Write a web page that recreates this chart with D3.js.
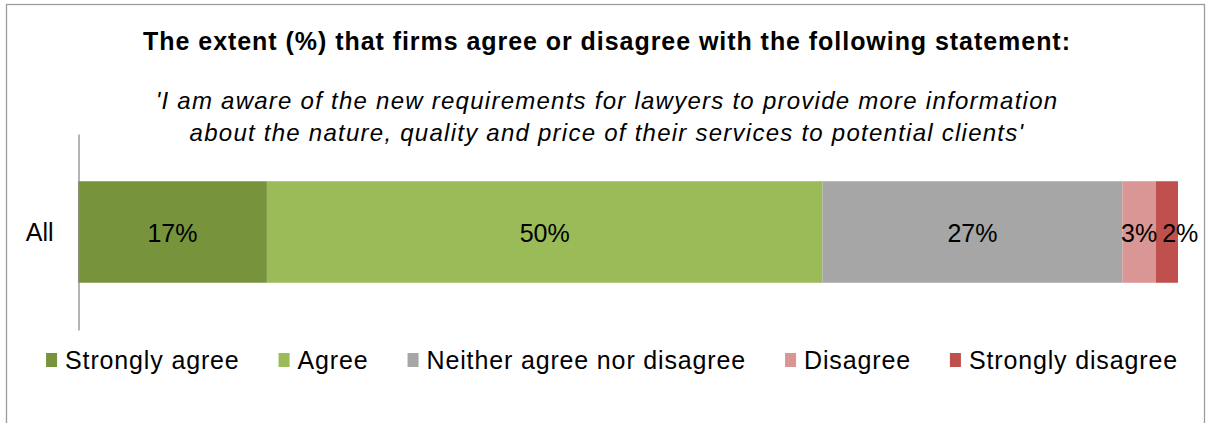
<!DOCTYPE html>
<html>
<head>
<meta charset="utf-8">
<script src="https://cdn.jsdelivr.net/npm/d3@7/dist/d3.min.js"></script>
<style>
  html, body { margin: 0; padding: 0; background: #fff; }
  svg { display: block; }
  text { font-family: "Liberation Sans", Arial, sans-serif; fill: #000; }
</style>
</head>
<body>
<svg id="chart" width="1207" height="423"></svg>
<script>
// Survey response shares (%), one stacked bar
const categories = ["All"];
const responses = ["Strongly agree", "Agree", "Neither agree nor disagree", "Disagree", "Strongly disagree"];
const shares = [17, 50, 27, 3, 2];
const colors = ["#77933C", "#9BBB59", "#A6A6A6", "#D99694", "#C0504D"];

const titleText = "The extent (%) that firms agree or disagree with the following statement:";
const subtitleLines = [
  "'I am aware of the new requirements for lawyers to provide more information",
  "about the nature, quality and price of their services to potential clients'"
];

const W = 1207, H = 423;
const svg = d3.select("#chart");

// outer frame
svg.append("rect")
  .attr("x", 6.5).attr("y", 4.5)
  .attr("width", 1198).attr("height", H + 10)
  .attr("fill", "none").attr("stroke", "#9d9d9d").attr("stroke-width", 1.3);

// heading
svg.append("text")
  .attr("x", 607).attr("y", 50)
  .attr("text-anchor", "middle")
  .style("font-size", "25px").style("font-weight", "bold")
  .style("letter-spacing", "0.95px")
  .text(titleText);

svg.selectAll("text.sub")
  .data(subtitleLines)
  .join("text")
  .attr("class", "sub")
  .attr("x", 607).attr("y", (d, i) => 109 + i * 32)
  .attr("text-anchor", "middle")
  .style("font-size", "24px").style("font-style", "italic")
  .style("letter-spacing", "1.25px")
  .text(d => d);

// stacked segments
const total = d3.sum(shares);
const x = d3.scaleLinear().domain([0, total]).range([78, 1178]);
const y = d3.scaleBand().domain(categories).range([134, 330]).paddingInner(0.3176).paddingOuter(0.3176);

const starts = d3.cumsum([0, ...shares.slice(0, -1)]);
const segs = shares.map((v, i) => ({ key: responses[i], v, x0: starts[i], x1: starts[i] + v, color: colors[i] }));

const bar = svg.append("g");
bar.selectAll("rect")
  .data(segs)
  .join("rect")
  .attr("x", d => x(d.x0))
  .attr("y", y("All"))
  .attr("width", d => x(d.x1) - x(d.x0))
  .attr("height", y.bandwidth())
  .attr("fill", d => d.color);

// value labels, nudged right where they would collide
const labels = bar.selectAll("text")
  .data(segs)
  .join("text")
  .attr("x", d => x((d.x0 + d.x1) / 2))
  .attr("y", y("All") + y.bandwidth() / 2 + 10)
  .attr("text-anchor", "middle")
  .style("font-size", "25px")
  .text(d => d.v + "%");

let prevRight = -Infinity;
labels.each(function() {
  const t = d3.select(this);
  const w = this.getComputedTextLength();
  let cx = +t.attr("x");
  if (cx - w / 2 < prevRight + 5) cx = prevRight + 5 + w / 2;
  t.attr("x", cx);
  prevRight = cx + w / 2;
});

// category axis
const yAxis = d3.axisLeft(y).tickSize(0).tickSizeOuter(0).tickPadding(25);
const ag = svg.append("g").attr("transform", "translate(78.5,0)").call(yAxis);
ag.select(".domain").attr("stroke", "#8c8c8c").attr("stroke-width", 1.3);
ag.selectAll(".tick text")
  .attr("dy", null).attr("y", 9)
  .style("font-size", "25px")
  .style("font-family", "'Liberation Sans', Arial, sans-serif")
  .attr("fill", "#000");

// legend
const legend = svg.append("g");
const items = legend.selectAll("g")
  .data(segs)
  .join("g");
items.append("rect")
  .attr("x", 0).attr("y", 353)
  .attr("width", 11).attr("height", 14)
  .attr("fill", d => d.color);
items.append("text")
  .attr("x", 19).attr("y", 369)
  .style("font-size", "25px")
  .style("letter-spacing", "0.85px")
  .text(d => d.key);

let lx = 0;
const offsets = [];
items.each(function() {
  const w = d3.select(this).select("text").node().getComputedTextLength();
  offsets.push(lx);
  lx += 19 + w + 39;
});
const legendWidth = lx - 39;
const startX = 612 - legendWidth / 2;
items.attr("transform", (d, i) => `translate(${startX + offsets[i]},0)`);
</script>
</body>
</html>
